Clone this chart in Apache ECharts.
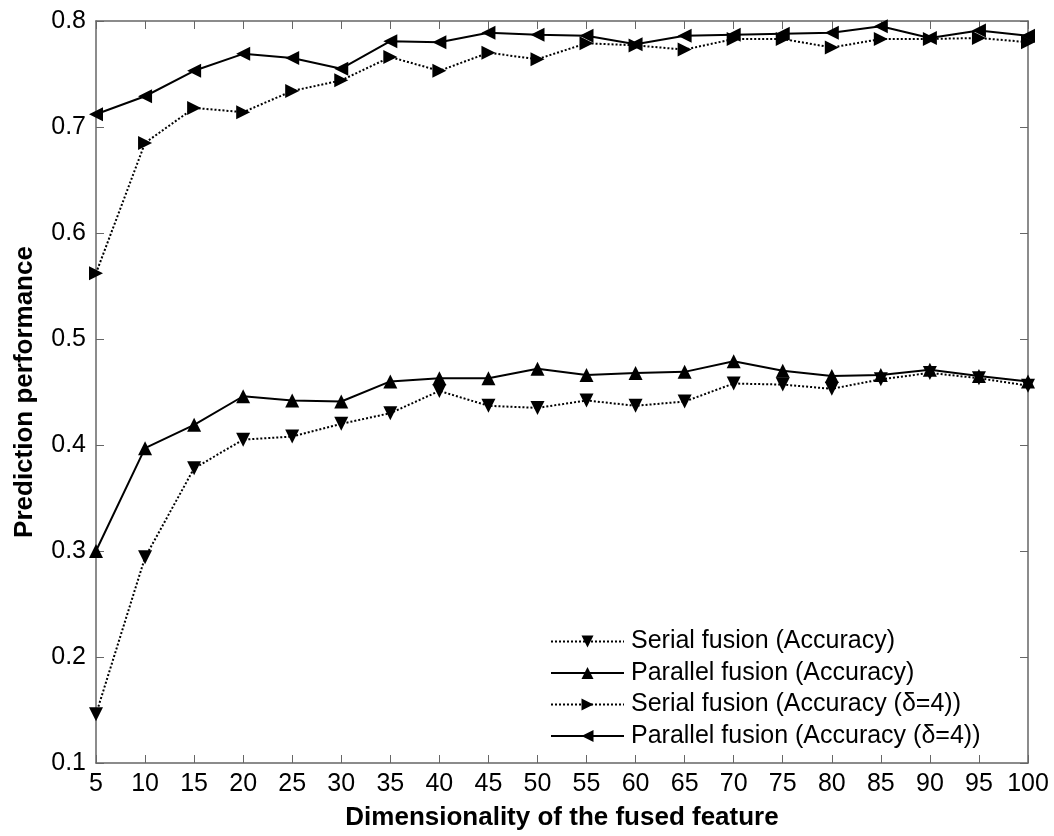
<!DOCTYPE html>
<html>
<head>
<meta charset="utf-8">
<script src="https://cdn.jsdelivr.net/npm/echarts@6/dist/echarts.min.js"></script>
<style>html,body{margin:0;padding:0;background:#fff;}#chart{width:1054px;height:836px;}</style>
</head>
<body>
<div id="chart"></div>
<script>
const dims = [5,10,15,20,25,30,35,40,45,50,55,60,65,70,75,80,85,90,95,100];
const serialAcc = [0.146,0.294,0.378,0.405,0.408,0.420,0.430,0.451,0.437,0.435,0.442,0.437,0.441,0.458,0.457,0.453,0.462,0.468,0.463,0.456];
const parallelAcc = [0.300,0.397,0.419,0.446,0.442,0.441,0.460,0.463,0.463,0.472,0.466,0.468,0.469,0.479,0.470,0.465,0.466,0.471,0.465,0.460];
const serialAccD4 = [0.562,0.685,0.718,0.714,0.734,0.744,0.766,0.753,0.770,0.764,0.779,0.777,0.773,0.783,0.783,0.775,0.783,0.783,0.784,0.780];
const parallelAccD4 = [0.712,0.729,0.753,0.769,0.765,0.755,0.781,0.780,0.789,0.787,0.786,0.778,0.786,0.787,0.788,0.789,0.795,0.784,0.791,0.786];
const seriesNames = ['Serial fusion (Accuracy)','Parallel fusion (Accuracy)','Serial fusion (Accuracy (δ=4))','Parallel fusion (Accuracy (δ=4))'];

const FONT = "'Liberation Sans', Arial, sans-serif";
const axisColor = '#666';
function pair(vals){ return dims.map((d,i)=>[d, vals[i]]); }
function mk(name, vals, dotted, rot){
  return {
    name: name, type: 'line', data: pair(vals),
    symbol: 'triangle', symbolSize: 14, symbolRotate: rot,
    lineStyle: {color:'#000', width: 2, type: dotted ? [2,2] : 'solid'},
    itemStyle: {color:'#000'},
    emphasis: {disabled: true}, animation: false, z: dotted ? 3 : 4
  };
}
const chart = echarts.init(document.getElementById('chart'), null, {renderer:'canvas'});
const tickCommon = {show:true, inside:true, length:8, lineStyle:{color:axisColor, width:1}};
chart.setOption({
  backgroundColor: '#fff',
  animation: false,
  grid: {left: 96, top: 21, right: 26, bottom: 73, containLabel: false},
  legend: {
    orient: 'vertical', left: 545, top: 624,
    itemWidth: 73, itemHeight: 15, itemGap: 6.5,
    data: seriesNames,
    textStyle: {fontFamily: FONT, fontSize: 25, color: '#000', lineHeight: 25, padding: [0,0,0,2]},
    selectedMode: false
  },
  xAxis: [{
    type: 'value', min: 5, max: 100, interval: 5,
    axisLine: {show:true, lineStyle:{color:axisColor, width:1.5}},
    axisTick: tickCommon,
    axisLabel: {color:'#000', fontFamily: FONT, fontSize: 25, margin: 9},
    splitLine: {show:false},
    name: 'Dimensionality of the fused feature', nameLocation: 'middle', nameGap: 42,
    nameTextStyle: {fontFamily: FONT, fontSize: 26, fontWeight: 'bold', color:'#000'}
  },{
    type: 'value', position: 'top', min: 5, max: 100, interval: 5,
    axisLine: {show:true, lineStyle:{color:axisColor, width:1.5}},
    axisTick: tickCommon, axisLabel: {show:false}, splitLine: {show:false}
  }],
  yAxis: [{
    type: 'value', min: 0.1, max: 0.8, interval: 0.1,
    axisLine: {show:true, lineStyle:{color:axisColor, width:1.5}},
    axisTick: tickCommon,
    axisLabel: {color:'#000', fontFamily: FONT, fontSize: 25, margin: 10,
      formatter: v => v.toFixed(1)},
    splitLine: {show:false},
    name: 'Prediction performance', nameLocation: 'middle', nameGap: 58,
    nameTextStyle: {fontFamily: FONT, fontSize: 26, fontWeight: 'bold', color:'#000'}
  },{
    type: 'value', position: 'right', min: 0.1, max: 0.8, interval: 0.1,
    axisLine: {show:true, lineStyle:{color:axisColor, width:1.5}},
    axisTick: tickCommon, axisLabel: {show:false}, splitLine: {show:false}
  }],
  series: [
    mk(seriesNames[0], serialAcc, true, 180),
    mk(seriesNames[1], parallelAcc, false, 0),
    mk(seriesNames[2], serialAccD4, true, -90),
    mk(seriesNames[3], parallelAccD4, false, 90)
  ]
});
</script>
</body>
</html>
